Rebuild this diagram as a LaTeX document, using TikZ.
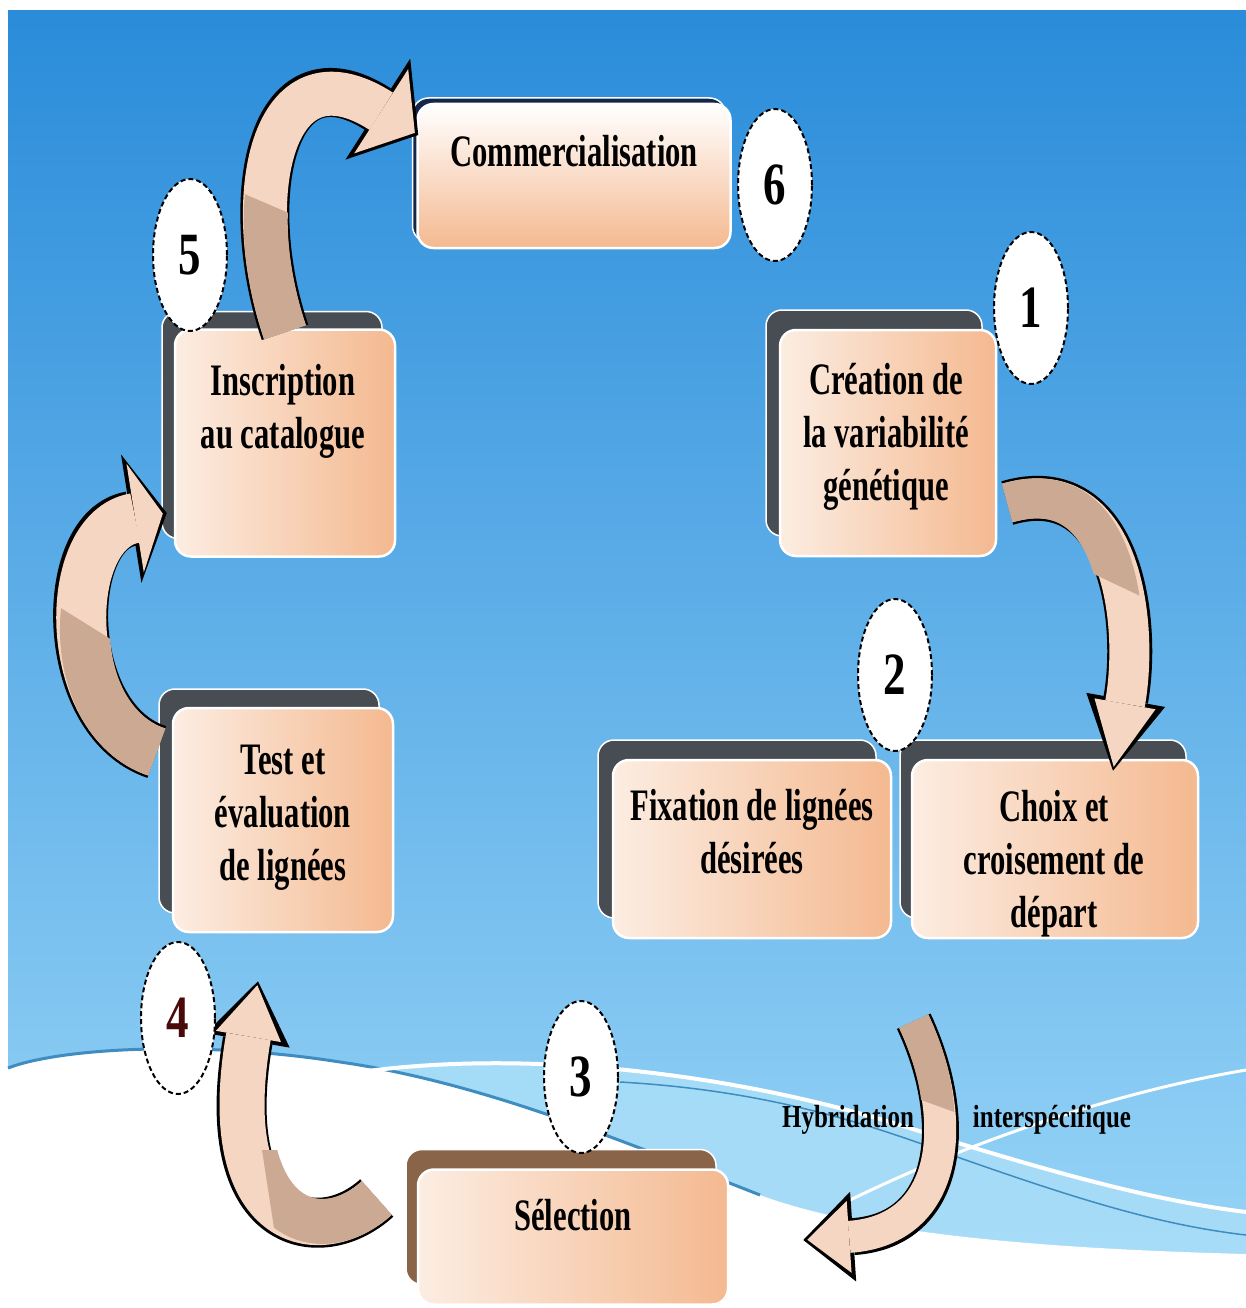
\documentclass[tikz,border=0pt]{standalone}
\usepackage{fontspec}
\newfontfamily\boxfont{Liberation Serif}[FakeStretch=0.68]
\newfontfamily\hybfont{Liberation Serif}[FakeStretch=0.78]
\newfontfamily\numfont{Liberation Serif}[FakeStretch=0.75]
\usetikzlibrary{shapes.geometric,arrows.meta,shadows,calc}

\definecolor{skytop}{HTML}{2A8CDA}
\definecolor{skybot}{HTML}{9BD7F8}
\definecolor{bandblue}{HTML}{A8DDF8}
\definecolor{rimblue}{HTML}{3E8CC0}
\definecolor{peachL}{HTML}{FCEDE2}
\definecolor{peachD}{HTML}{F4B990}
\definecolor{shadowgrey}{HTML}{474D52}
\definecolor{shadowbrown}{HTML}{8A6448}
\definecolor{navy}{HTML}{14264A}
\definecolor{arrowpeach}{HTML}{F4D6C2}
\definecolor{arrowtan}{HTML}{CBA993}
\definecolor{darkred}{HTML}{4A0A0A}

% connector paths, reused for the tan overlays
\newcommand{\flowA}{($(inscr.north)+(0,4)$) .. controls (240,200) and (270,40) .. ($(comm.west)+(2,-41)$)}
\newcommand{\flowB}{($(test.west)+(-15,-68)$) .. controls (60,720) and (60,530) .. ($(inscr.west)+(-7,70)$)}
\newcommand{\flowC}{($(selection.west)+(-40,-39)$) .. controls (320,1250) and (215,1230) .. ($(test.south)+(-25,48)$)}
\newcommand{\flowD}{($(creation.east)+(10,60)$) .. controls (1120,470) and (1140,620) .. ($(choix.north)+(58,12)$)}
\newcommand{\flowE}{($(choix.south west)+(3,82)$) .. controls (960,1120) and (950,1230) .. ($(selection.east)+(74,3)$)}

\begin{document}
\begin{tikzpicture}[x=1pt, y=-1pt,
  stepbox/.style={rounded corners=16pt, draw=white, line width=2.5pt,
    left color=peachL, right color=peachD, inner sep=0pt},
  boxshadow/.style n args={3}{drop shadow={shadow xshift=#1pt, shadow yshift=#2pt,
    fill=#3, draw=white, line width=1.5pt, opacity=1}},
  steptext/.style={font=\boxfont\bfseries\fontsize{45pt}{53pt}\selectfont,
    align=center, anchor=base, inner sep=0pt},
  hybtext/.style={font=\hybfont\bfseries\fontsize{32pt}{38pt}\selectfont,
    anchor=base, inner sep=0pt},
  numoval/.style={ellipse, fill=white, draw=black, line width=2pt,
    dash pattern=on 5pt off 3pt, minimum width=74pt, minimum height=152pt,
    inner sep=0pt, font=\numfont\bfseries\fontsize{60pt}{60pt}\selectfont},
  flow/.style n args={5}{preaction={draw=black, line width=#1pt+5pt, shorten >=0pt,
      -{Triangle[width=#2pt, length=#3pt, line width=0pt]}},
    draw=arrowpeach, line width=#1pt, shorten >=4pt,
    -{Triangle[width=#4pt, length=#5pt, line width=0pt]}},
  twist/.style={draw=arrowtan, line width=#1pt, shorten >=4pt}
]
  \useasboundingbox (0,0) rectangle (1246,1308);
  % sky and waves
  \fill[white] (0,0) rectangle (1246,1308);
  \shade[top color=skytop, bottom color=skybot] (8,11) rectangle (1246,1308);
  \fill[bandblue, opacity=0.9] (360,1072) .. controls (520,1050) and (720,1070) .. (900,1125)
    .. controls (1050,1172) and (1150,1200) .. (1246,1212) -- (1246,1254)
    .. controls (1100,1250) and (880,1240) .. (760,1195)
    .. controls (620,1140) and (480,1082) .. (340,1062) -- cycle;
  \fill[white] (8,1068) .. controls (60,1048) and (200,1040) .. (340,1062)
    .. controls (480,1082) and (620,1140) .. (760,1195)
    .. controls (880,1240) and (1100,1250) .. (1246,1254) -- (1246,1308) -- (8,1308) -- cycle;
  \draw[rimblue, line width=3pt] (8,1068) .. controls (60,1048) and (200,1040) .. (340,1062)
    .. controls (480,1082) and (620,1140) .. (760,1195);
  \draw[white, line width=4pt] (360,1072) .. controls (520,1050) and (720,1070) .. (900,1125)
    .. controls (1050,1172) and (1150,1200) .. (1246,1212);
  \draw[rimblue, line width=1.5pt] (620,1082) .. controls (760,1090) and (860,1120) .. (960,1158)
    .. controls (1080,1200) and (1160,1225) .. (1246,1235);
  \draw[white, line width=3pt] (840,1205) .. controls (950,1150) and (1100,1095) .. (1246,1070);

  % boxes
  \node[stepbox, boxshadow={-5}{6}{navy}, minimum width=313pt, minimum height=144pt,
    top color=white, bottom color=peachD] (comm) at (574,176) {};
  \node[stepbox, boxshadow={-13}{18}{shadowgrey}, minimum width=220pt, minimum height=227pt] (inscr) at (285,443) {};
  \node[stepbox, boxshadow={-14}{19}{shadowgrey}, minimum width=220pt, minimum height=224pt] (test) at (283,820) {};
  \node[stepbox, boxshadow={-14}{20}{shadowgrey}, minimum width=216pt, minimum height=226pt] (creation) at (888,443) {};
  \node[stepbox, boxshadow={-15}{20}{shadowgrey}, minimum width=278pt, minimum height=178pt] (fixation) at (752,849) {};
  \node[stepbox, boxshadow={-12}{20}{shadowgrey}, minimum width=286pt, minimum height=178pt] (choix) at (1055,849) {};
  \node[stepbox, boxshadow={-12}{20}{shadowbrown}, minimum width=310pt, minimum height=135pt] (selection) at (573,1237) {};

  % texts (base = last line)
  \node[steptext] (commtext) at (574,167) {Commercialisation};
  \node[steptext] (inscrtext) at (283,448) {Inscription\\au catalogue};
  \node[steptext] (creationtext) at (886,500) {Création de\\la variabilité\\génétique};
  \node[steptext] (testtext) at (283,880) {Test et\\évaluation\\de lignées};
  \node[steptext] (fixtext) at (752,873) {Fixation de lignées\\désirées};
  \node[steptext] (choixtext) at (1054,927) {Choix et\\croisement de\\départ};
  \node[steptext] (seltext) at (573,1230) {Sélection};
  \node[hybtext] (hyb) at (848,1127) {Hybridation};
  \node[hybtext] (inter) at (1052,1127) {interspécifique};

  % arrows
  \draw[flow={44}{120}{48}{100}{40}] \flowA;
  \draw[flow={50}{130}{36}{110}{28}] \flowB;
  \draw[flow={45}{85}{60}{66}{52}] \flowC;
  \draw[flow={40}{80}{72}{62}{64}] \flowD;
  \draw[flow={32}{90}{50}{72}{42}] \flowE;
  % darker side of the twisted ribbons
  \begin{scope}
    \clip (200,340) -- (340,340) -- (340,235) -- (200,175) -- cycle;
    \draw[twist=44] \flowA;
  \end{scope}
  \begin{scope}
    \clip (40,800) -- (200,800) -- (200,695) -- (40,595) -- cycle;
    \draw[twist=50] \flowB;
  \end{scope}
  \begin{scope}
    \clip (262,1150) -- (400,1150) -- (400,1280) -- (282,1280) -- cycle;
    \draw[twist=45] \flowC;
  \end{scope}
  \begin{scope}
    \clip (990,430) -- (1170,430) -- (1170,610) -- (990,525) -- cycle;
    \draw[twist=40] \flowD;
  \end{scope}
  \begin{scope}
    \clip (880,990) -- (990,990) -- (990,1125) -- (880,1085) -- cycle;
    \draw[twist=32] \flowE;
  \end{scope}

  % step numbers
  \foreach \n/\x/\y/\c in {1/1031/308/black, 2/895/675/black, 3/581/1077/black,
                          4/178/1018/darkred, 5/190/255/black, 6/775/185/black}
    \node[numoval, text=\c] (n\n) at (\x,\y) {\n};
\end{tikzpicture}
\end{document}
